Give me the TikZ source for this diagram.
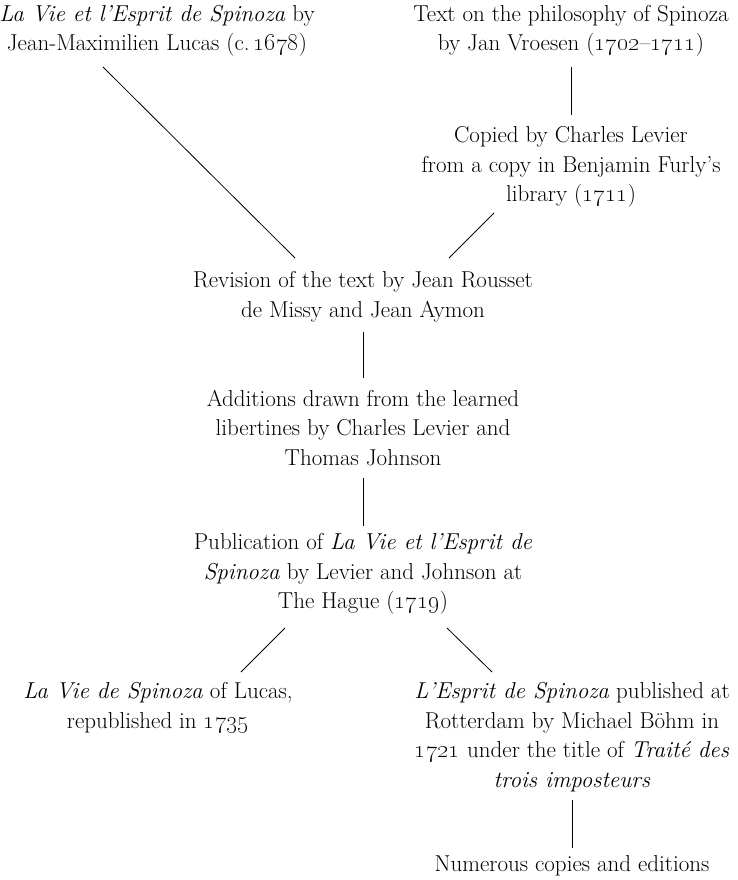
\documentclass[tikz,border=0pt]{standalone}
\usepackage{tikz}

\tikzset{
  entry/.style={align=center, inner sep=0pt, font=\fontsize{23}{29.5}\selectfont},
  link/.style={line width=0.8pt}
}

\begin{document}
\begin{tikzpicture}[x=1pt, y=-1pt]
	  \useasboundingbox (0,0) rectangle (737,880);
	  \node [entry] (A) at (157,31) {\textit{La Vie et l'Esprit de Spinoza} by\\Jean-Maximilien Lucas (c.\,\oldstylenums{1678})};
	  \node [entry] (B) at (571,31) {Text on the philosophy of Spinoza\\by Jan Vroesen (\oldstylenums{1702}--\oldstylenums{1711})};
	  \node [entry] (C) at (571,167) {Copied by Charles Levier\\from a copy in Benjamin Furly's\\library (\oldstylenums{1711})};
	  \node [entry] (D) at (363,297) {Revision of the text by Jean Rousset\\de Missy and Jean Aymon};
	  \node [entry] (E) at (363,428) {Additions drawn from the learned\\libertines by Charles Levier and\\Thomas Johnson};
	  \node [entry] (F) at (363,574) {Publication of \textit{La Vie et l'Esprit de}\\\textit{Spinoza} by Levier and Johnson at\\The Hague (\oldstylenums{1719})};
	  \node [entry] (G) at (158,708) {\textit{La Vie de Spinoza} of Lucas,\\republished in \oldstylenums{1735}};
	  \node [entry] (H) at (572,737) {\textit{L'Esprit de Spinoza} published at\\Rotterdam by Michael Böhm in\\\oldstylenums{1721} under the title of \textit{Traité des}\\\textit{trois imposteurs}};
	  \node [entry] (I) at (572,866) {Numerous copies and editions};
	  % connectors
	  \draw [link] ([shift={(-54,36)}]A.center) -- ([shift={(-68,-39)}]D.center);
	  \draw [link] ([shift={(0,36)}]B.center) -- ([shift={(0,-52)}]C.center);
	  \draw [link] ([shift={(-77,46)}]C.center) -- ([shift={(86,-39)}]D.center);
	  \draw [link] ([shift={(0,35)}]D.center) -- ([shift={(0,-50)}]E.center);
	  \draw [link] ([shift={(0,50)}]E.center) -- ([shift={(0,-48)}]F.center);
	  \draw [link] ([shift={(-78,54)}]F.center) -- ([shift={(83,-36)}]G.center);
	  \draw [link] ([shift={(84,54)}]F.center) -- ([shift={(-80,-65)}]H.center);
	  \draw [link] ([shift={(0,63)}]H.center) -- ([shift={(0,-18)}]I.center);
	 \end{tikzpicture}
\end{document}
